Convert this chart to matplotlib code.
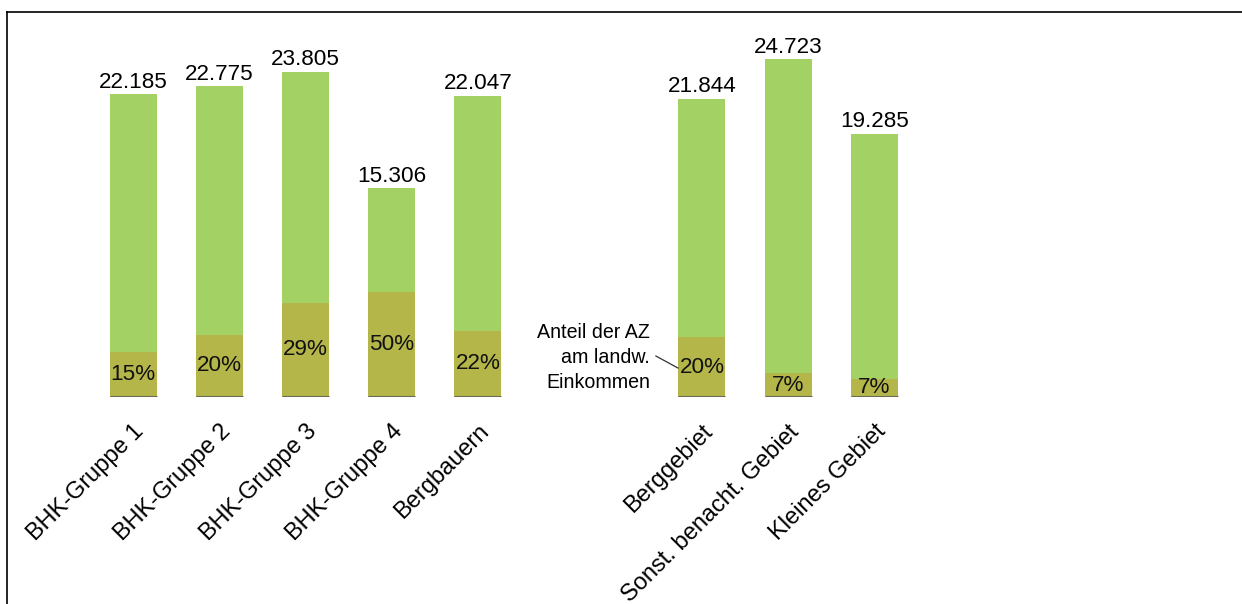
import numpy as np
import matplotlib
matplotlib.use("Agg")
import matplotlib.pyplot as plt
from matplotlib.lines import Line2D

plt.rcParams['font.family'] = ['Liberation Sans', 'DejaVu Sans']

categories = ["BHK-Gruppe 1", "BHK-Gruppe 2", "BHK-Gruppe 3", "BHK-Gruppe 4", "Bergbauern",
              "Berggebiet", "Sonst. benacht. Gebiet", "Kleines Gebiet"]
totals = [22185, 22775, 23805, 15306, 22047, 21844, 24723, 19285]
total_labels = ["22.185", "22.775", "23.805", "15.306", "22.047", "21.844", "24.723", "19.285"]
shares_pct = [15, 20, 29, 50, 22, 20, 7, 7]

light_green = "#a3d164"
olive = "#b4b64a"
base_gray = "#6b6b55"

fig = plt.figure(figsize=(12.42, 6.04), dpi=100)
W, H = 1242, 604
ax = fig.add_axes([7 / W, (H - 397) / H, 1 - 7 / W, (397 - 12) / H])

pos = np.arange(len(categories), dtype=float)
pos[5:] += 1.6
width = 0.545

totals_a = np.array(totals, dtype=float)
share_vals = totals_a * np.array(shares_pct) / 100.0
rest = totals_a - share_vals

ax.bar(pos, share_vals, width, color=olive, edgecolor='none')
ax.bar(pos, rest, width, bottom=share_vals, color=light_green, edgecolor='none')
ax.hlines(np.zeros_like(pos), pos - width / 2, pos + width / 2, color=base_gray, lw=2.2)

for x, t, lab, s, p in zip(pos, totals_a, total_labels, share_vals, shares_pct):
    ax.text(x, t + 100, lab, ha='center', va='bottom', fontsize=16.2, color='black')
    ax.text(x, s / 2, f"{p}%", ha='center', va='center', fontsize=16.2, color='#111111')

ax.set_xlim(-1.462, 12.865)
ax.set_ylim(0, 28184)
ax.set_xticks(pos)
ax.set_xticklabels(categories, rotation=45, ha='right', rotation_mode='anchor', fontsize=17)
ax.tick_params(axis='x', length=0, pad=17)
ax.set_yticks([])
for sp in ax.spines.values():
    sp.set_visible(False)

# annotation
ax.text(pos[5] - 0.60, 2928, "Anteil der AZ\nam landw.\nEinkommen", ha='right', va='center',
        fontsize=14.1, linespacing=1.4, color='black')
ax.plot([pos[5] - 0.534, pos[5] - 0.278], [3000, 2120], color='#333333', lw=0.9)

# figure frame (top and left)
fig.add_artist(Line2D([7 / W, 1], [1 - 12 / H, 1 - 12 / H], transform=fig.transFigure, color='black', lw=1.2))
fig.add_artist(Line2D([7 / W, 7 / W], [0, 1 - 12 / H], transform=fig.transFigure, color='black', lw=1.2))

fig.savefig("out.png", dpi=100)
